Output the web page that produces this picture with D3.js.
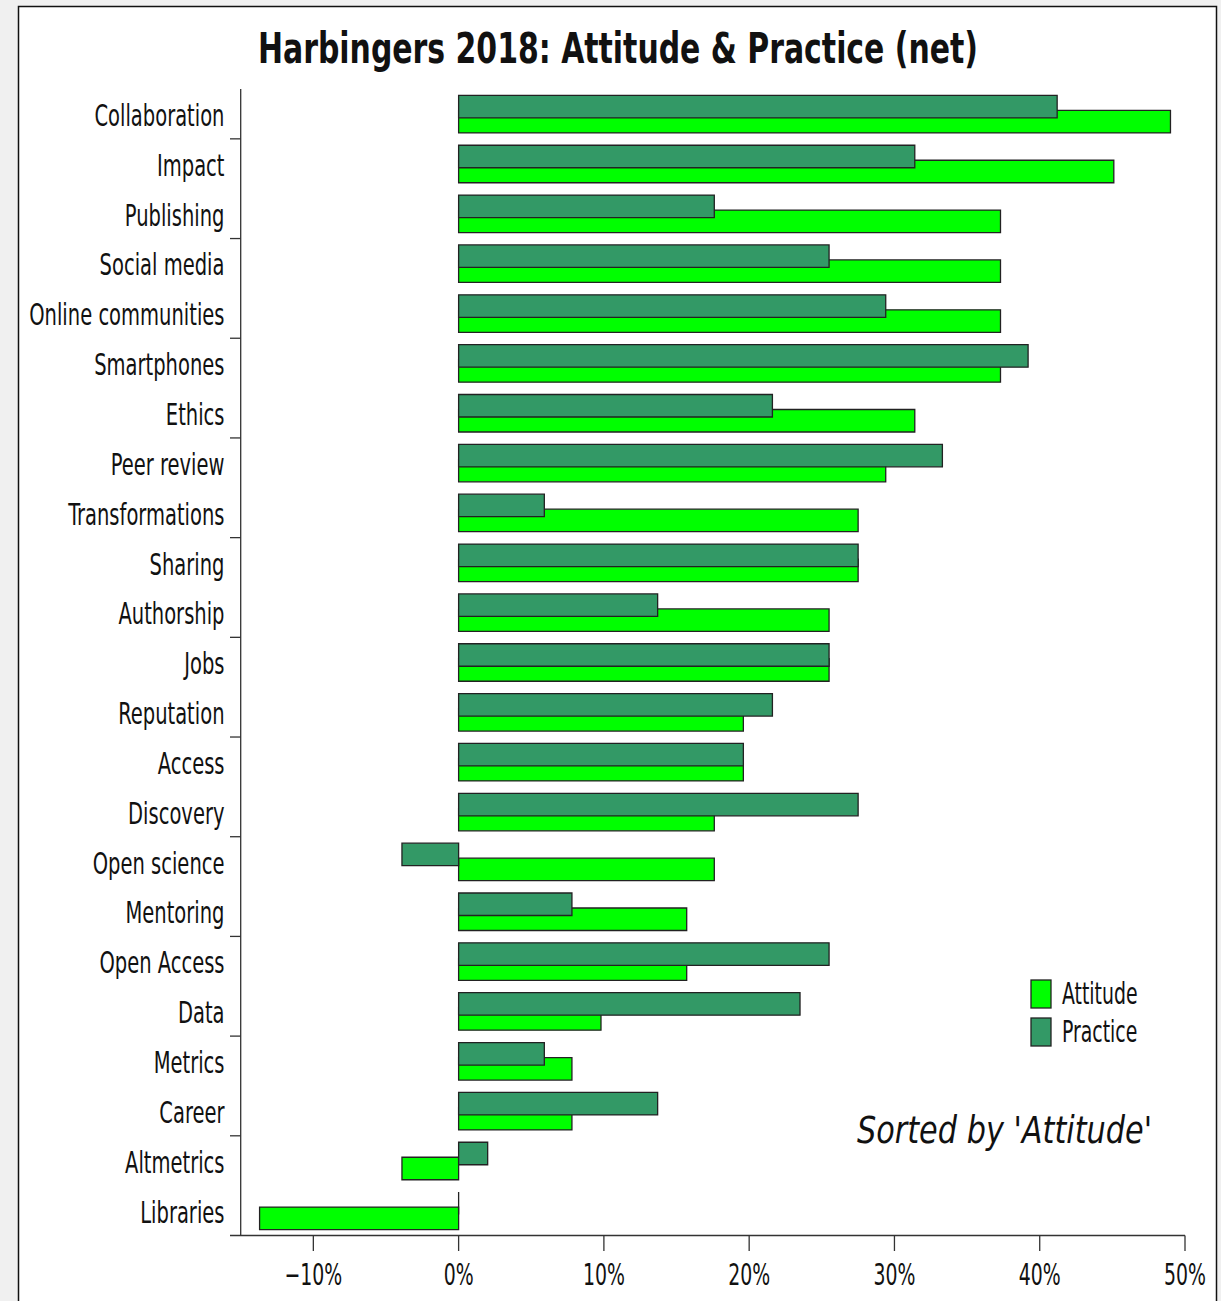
<!DOCTYPE html>
<html>
<head>
<meta charset="utf-8">
<script src="https://cdn.jsdelivr.net/npm/d3@7"></script>
<style>
    body { margin: 0; background: #f0f0f0; }
    text { font-family: "DejaVu Sans Condensed", "DejaVu Sans", sans-serif; font-stretch: condensed; fill: #111; }
</style>
</head>
<body>
<div class="viz"></div>
<script>
// categories, sorted by attitude
var categories = ["Collaboration", "Impact", "Publishing", "Social media", "Online communities",
    "Smartphones", "Ethics", "Peer review", "Transformations", "Sharing", "Authorship", "Jobs",
    "Reputation", "Access", "Discovery", "Open science", "Mentoring", "Open Access", "Data",
    "Metrics", "Career", "Altmetrics", "Libraries"];

// net values in percent
var attitude = [49.0, 45.1, 37.3, 37.3, 37.3, 37.3, 31.4, 29.4, 27.5, 27.5, 25.5, 25.5,
    19.6, 19.6, 17.6, 17.6, 15.7, 15.7, 9.8, 7.8, 7.8, -3.9, -13.7];
var practice = [41.2, 31.4, 17.6, 25.5, 29.4, 39.2, 21.6, 33.3, 5.9, 27.5, 13.7, 25.5,
    21.6, 19.6, 27.5, -3.9, 7.8, 25.5, 23.5, 5.9, 13.7, 2.0, 0];

var xTicks = [-10, 0, 10, 20, 30, 40, 50];
var seriesNames = ["Attitude", "Practice"];
var seriesColors = ["#00ff00", "#339966"];

var width = 1221, height = 1301;
var sx = 0.7; // fonts in the original are squeezed sideways

var svg = d3.select('.viz').append('svg')
    .attr('width', width)
    .attr('height', height);

svg.append('rect')
    .attr('x', 18.5).attr('y', 6.5)
    .attr('width', 1198).attr('height', 1320)
    .attr('fill', '#fff')
    .attr('stroke', '#111')
    .attr('stroke-width', 1.5);

var x = d3.scaleLinear().domain([-15, 50]).range([240.7, 1185]);
var y = d3.scaleBand().domain(categories).range([89, 1235.5]);
var bh = 22.5;

// title
svg.append('text')
    .attr('x', 618).attr('y', 63)
    .attr('text-anchor', 'middle')
    .attr('font-size', 43)
    .attr('font-weight', 'bold')
    .attr('textLength', 720)
    .attr('lengthAdjust', 'spacingAndGlyphs')
    .text('Harbingers 2018: Attitude & Practice (net)');

var g = svg.append('g');

// bar as a path so a zero value still shows its outline
function barPath(v, top) {
    var x0 = x(0), x1 = x(v);
    return 'M' + x0 + ',' + top + 'H' + x1 + 'V' + (top + bh) + 'H' + x0 + 'Z';
}

// attitude under, practice drawn on top
categories.forEach(function(c, i) {
    var cy = y(c) + y.bandwidth() / 2;
    g.append('path')
        .attr('d', barPath(attitude[i], cy - 3.5))
        .attr('fill', seriesColors[0])
        .attr('stroke', '#222')
        .attr('stroke-width', 1.3);
    g.append('path')
        .attr('d', barPath(practice[i], cy - 18.5))
        .attr('fill', seriesColors[1])
        .attr('stroke', '#222')
        .attr('stroke-width', 1.3);
});

// y axis
svg.append('line')
    .attr('x1', 240.7).attr('x2', 240.7)
    .attr('y1', 89).attr('y2', 1235.5)
    .attr('stroke', '#333').attr('stroke-width', 1.3);

categories.forEach(function(c, i) {
    if (i % 2 == 0 && i < categories.length - 1) {
        var ty = y(c) + y.bandwidth();
        svg.append('line')
            .attr('x1', 230).attr('x2', 240.7)
            .attr('y1', ty).attr('y2', ty)
            .attr('stroke', '#333').attr('stroke-width', 1.3);
    }
    svg.append('text')
        .attr('transform', 'translate(224.5,' + (y(c) + y.bandwidth() / 2 + 12) + ') scale(' + sx + ',1)')
        .attr('text-anchor', 'end')
        .attr('font-size', 31)
        .text(c);
});

// x axis
svg.append('line')
    .attr('x1', 230).attr('x2', 1185)
    .attr('y1', 1235.5).attr('y2', 1235.5)
    .attr('stroke', '#333').attr('stroke-width', 1.3);

xTicks.forEach(function(t) {
    svg.append('line')
        .attr('x1', x(t)).attr('x2', x(t))
        .attr('y1', 1235.5).attr('y2', 1251)
        .attr('stroke', '#333').attr('stroke-width', 1.3);
    svg.append('text')
        .attr('transform', 'translate(' + x(t) + ',1285) scale(' + sx + ',1)')
        .attr('text-anchor', 'middle')
        .attr('font-size', 30)
        .text((t < 0 ? '\u2212' + Math.abs(t) : t) + '%');
});

// legend
seriesNames.forEach(function(s, i) {
    svg.append('rect')
        .attr('x', 1031).attr('y', 980 + i * 38)
        .attr('width', 20).attr('height', 28)
        .attr('fill', seriesColors[i])
        .attr('stroke', '#222').attr('stroke-width', 1.3);
    svg.append('text')
        .attr('transform', 'translate(1062,' + (1004 + i * 38) + ') scale(' + sx + ',1)')
        .attr('font-size', 30)
        .text(s);
});

svg.append('text')
    .attr('x', 857).attr('y', 1143)
    .attr('font-size', 37)
    .attr('font-style', 'italic')
    .attr('textLength', 295)
    .attr('lengthAdjust', 'spacingAndGlyphs')
    .text("Sorted by 'Attitude'");
</script>
</body>
</html>
